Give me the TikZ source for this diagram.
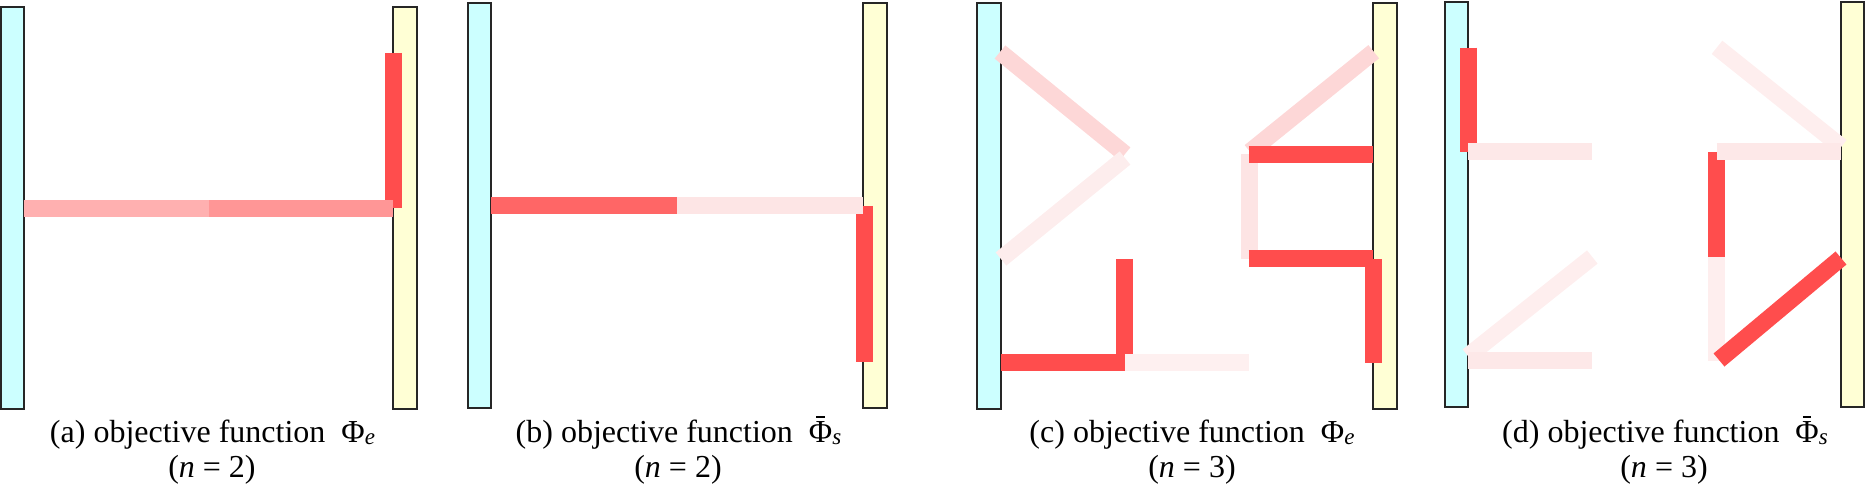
\documentclass[tikz,border=0pt]{standalone}
\usepackage{fontspec}
\setmainfont{Liberation Serif}
\definecolor{cyanF}{HTML}{CCFFFF}
\definecolor{yelF}{HTML}{FFFFD5}
\definecolor{cRed}{HTML}{FF4D4D}
\definecolor{pAone}{HTML}{FFB0B0}
\definecolor{pAtwo}{HTML}{FF9696}
\definecolor{pBone}{HTML}{FF6666}
\definecolor{pBtwo}{HTML}{FDE5E5}
\definecolor{pDiag}{HTML}{FDD7D7}
\definecolor{pCtwo}{HTML}{FDEDED}
\definecolor{pCthree}{HTML}{FEF0F0}
\definecolor{pCfour}{HTML}{FDE4E4}
\definecolor{pDone}{HTML}{FDE8E8}
\definecolor{pDtwo}{HTML}{FEEEEE}
\newcommand\PhiBar{\leavevmode\setbox0=\hbox{Φ}\rlap{\hbox to \wd0{\hss\raisebox{\dimexpr\ht0+0.09em\relax}{\rule{0.27em}{0.075em}}\hss}}\copy0}
\newcommand\SubIt[1]{\raisebox{-0.08em}{\fontsize{23}{23}\selectfont\itshape #1}}
\begin{document}
\begin{tikzpicture}[x=1pt,y=-1pt,
  wall/.style={draw=black!85,line width=1.8pt},
  seg/.style={line width=17pt,line cap=butt},
  captxt/.style={anchor=base,inner sep=0pt,font=\fontsize{32}{35}\selectfont}]
\useasboundingbox (0,0) rectangle (1865,486);
% ---------- panel (a)
\draw[wall,fill=cyanF] (1,7) rectangle (24,409);
\draw[wall,fill=yelF] (393,7) rectangle (417,409);
\draw[seg,cRed] (393.5,53) -- (393.5,208);
\draw[seg,pAone] (24,208.5) -- (209,208.5);
\draw[seg,pAtwo] (209,208.5) -- (393,208.5);
\node[captxt] (capa) at (212.5,442) {(a) objective function\ \ Φ\SubIt{e}};
\node[captxt] (capan) at (212,477) {(\textit{n} = 2)};
% ---------- panel (b)
\draw[wall,fill=cyanF] (468,3) rectangle (491,408);
\draw[wall,fill=yelF] (863,3) rectangle (887,408);
\draw[seg,cRed] (864,206) -- (864,362);
\draw[seg,pBone] (491,205.5) -- (677,205.5);
\draw[seg,pBtwo] (677,205.5) -- (863,205.5);
\node[captxt] (capb) at (678.5,442) {(b) objective function\ \ \PhiBar\SubIt{s}};
\node[captxt] (capbn) at (678,477) {(\textit{n} = 2)};
% ---------- panel (c)
\draw[wall,fill=cyanF] (977,3) rectangle (1001,409);
\draw[wall,fill=yelF] (1373,3) rectangle (1397,409);
\draw[seg,pDiag] (1000,52) -- (1125,154);
\draw[seg,pCtwo] (1125,158) -- (1001,259);
\draw[seg,cRed] (1124.8,259) -- (1124.8,354);
\draw[seg,cRed] (1001,362.7) -- (1124.8,362.7);
\draw[seg,pCthree] (1124.8,362.7) -- (1248.7,362.7);
\draw[seg,pDiag] (1250,151.7) -- (1373.7,51.7);
\draw[seg,pCfour] (1249.2,154) -- (1249.2,259);
\draw[seg,cRed] (1248.7,154.2) -- (1373,154.2);
\draw[seg,cRed] (1248.7,258.7) -- (1373,258.7);
\draw[seg,cRed] (1373.3,259.3) -- (1373.3,362.7);
\node[captxt] (capc) at (1192,442) {(c) objective function\ \ Φ\SubIt{e}};
\node[captxt] (capcn) at (1192,477) {(\textit{n} = 3)};
% ---------- panel (d)
\draw[wall,fill=cyanF] (1445,2) rectangle (1468,407);
\draw[wall,fill=yelF] (1841,2) rectangle (1864,407);
\draw[seg,cRed] (1468.3,47.7) -- (1468.3,151.7);
\draw[seg,pDone] (1468.3,152) -- (1592.3,152);
\draw[seg,pDtwo] (1592.3,257) -- (1468,356);
\draw[seg,pDone] (1468.3,360.3) -- (1592.3,360.3);
\draw[seg,pDtwo] (1717,47.3) -- (1841.3,146.7);
\draw[seg,cRed] (1716.7,151.7) -- (1716.7,257.3);
\draw[seg,pDone] (1716.7,152) -- (1841.3,152);
\draw[seg,pDtwo] (1716.7,257.3) -- (1716.7,360.7);
\draw[seg,cRed] (1719,360) -- (1841,258);
\node[captxt] (capd) at (1665,442) {(d) objective function\ \ \PhiBar\SubIt{s}};
\node[captxt] (capdn) at (1664,477) {(\textit{n} = 3)};
\end{tikzpicture}
\end{document}
